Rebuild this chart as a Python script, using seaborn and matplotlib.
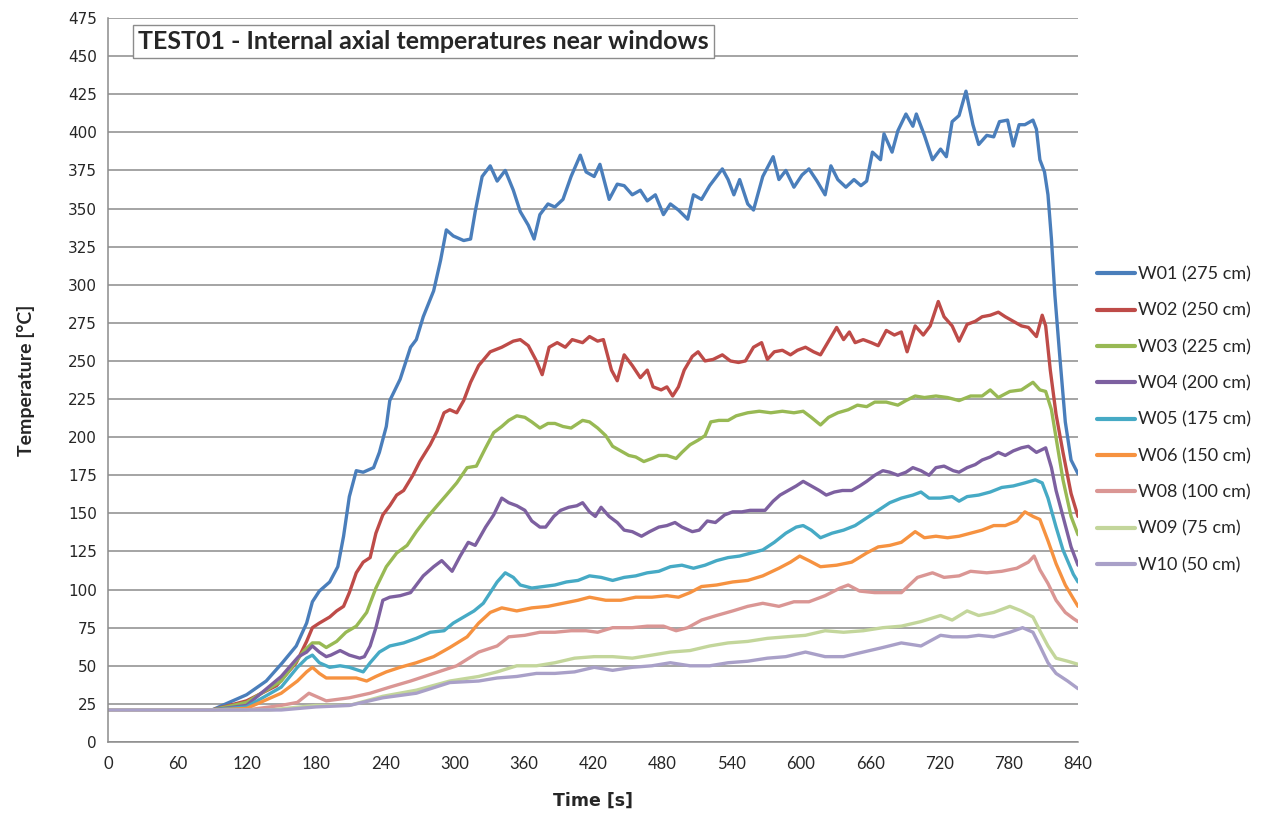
import matplotlib
matplotlib.use("Agg")
import matplotlib.pyplot as plt
import numpy as np
import pandas as pd
import seaborn as sns

# values (time in s, temperature in degC)
t_w01 = [0, 90, 120, 137, 151, 163, 172, 177, 183, 192,
         199, 204, 209, 215, 221, 230, 235, 241, 244, 253,
         262, 267, 273, 282, 288, 293, 299, 308, 314, 318,
         324, 331, 337, 344, 351, 357, 364, 369, 374, 381,
         387, 394, 401, 409, 414, 421, 426, 434, 441, 447,
         454, 461, 467, 474, 481, 487, 494, 502, 507, 514,
         521, 527, 532, 537, 542, 547, 554, 559, 567, 576,
         581, 587, 594, 601, 607, 614, 621, 626, 632, 639,
         646, 652, 657, 662, 669, 672, 679, 684, 691, 697,
         700, 707, 714, 721, 726, 731, 737, 743, 749, 754,
         761, 767, 772, 779, 784, 789, 794, 801, 804, 807,
         811, 814, 817, 820, 824, 829, 834, 840]
w01 = [21, 21, 31, 40, 52, 63, 78, 92, 99, 105,
       115, 135, 161, 178, 177, 180, 190, 207, 224, 238,
       259, 264, 279, 296, 316, 336, 332, 329, 330, 348,
       371, 378, 368, 375, 362, 348, 339, 330, 346, 353,
       351, 356, 371, 385, 374, 371, 379, 356, 366, 365,
       359, 362, 355, 359, 346, 353, 349, 343, 359, 356,
       365, 371, 376, 369, 359, 369, 353, 349, 371, 384,
       369, 375, 364, 372, 376, 368, 359, 378, 369, 364,
       369, 365, 368, 387, 382, 399, 387, 401, 412, 404,
       412, 398, 382, 389, 384, 407, 411, 427, 405, 392,
       398, 397, 407, 408, 391, 405, 405, 408, 402, 382,
       374, 359, 330, 293, 255, 210, 185, 176]

t_w02 = [0, 90, 120, 146, 163, 172, 177, 183, 192, 198,
         204, 209, 215, 221, 227, 232, 238, 244, 250, 256,
         264, 270, 279, 285, 291, 296, 302, 308, 314, 321,
         331, 341, 351, 357, 364, 371, 376, 382, 389, 396,
         402, 411, 417, 424, 429, 436, 441, 447, 454, 461,
         467, 472, 479, 484, 489, 494, 499, 506, 511, 517,
         524, 532, 539, 546, 552, 559, 566, 571, 577, 584,
         591, 597, 604, 611, 617, 624, 631, 637, 642, 647,
         654, 661, 667, 674, 681, 687, 692, 699, 706, 712,
         719, 724, 731, 737, 744, 751, 757, 764, 771, 777,
         784, 791, 797, 804, 809, 812, 816, 821, 827, 834,
         840]
w02 = [21, 21, 27, 37, 52, 66, 75, 78, 82, 86,
       89, 98, 111, 118, 121, 137, 149, 155, 162, 165,
       175, 184, 195, 204, 216, 218, 216, 224, 236, 247,
       256, 259, 263, 264, 260, 250, 241, 259, 262, 259,
       264, 262, 266, 263, 264, 244, 237, 254, 247, 239,
       244, 233, 231, 233, 227, 233, 244, 253, 256, 250,
       251, 254, 250, 249, 250, 259, 262, 251, 256, 257,
       254, 257, 259, 256, 254, 263, 272, 264, 269, 262,
       264, 262, 260, 270, 267, 269, 256, 273, 267, 273,
       289, 279, 273, 263, 274, 276, 279, 280, 282, 279,
       276, 273, 272, 266, 280, 273, 244, 215, 190, 163,
       148]

t_w03 = [0, 90, 120, 150, 170, 177, 183, 189, 198, 206,
         215, 224, 232, 241, 250, 259, 267, 276, 285, 293,
         302, 311, 319, 327, 334, 341, 347, 354, 361, 367,
         374, 381, 387, 394, 401, 411, 417, 424, 431, 437,
         444, 451, 457, 464, 471, 477, 484, 492, 497, 504,
         511, 517, 522, 529, 537, 544, 554, 564, 574, 584,
         594, 602, 609, 617, 624, 632, 641, 649, 657, 664,
         674, 684, 691, 699, 707, 717, 727, 737, 747, 757,
         764, 771, 781, 791, 801, 807, 812, 817, 822, 827,
         834, 840]
w03 = [21, 21, 26, 40, 60, 65, 65, 62, 66, 72,
       76, 85, 101, 115, 124, 129, 138, 147, 155, 162,
       170, 180, 181, 193, 203, 207, 211, 214, 213, 210,
       206, 209, 209, 207, 206, 211, 210, 206, 201, 194,
       191, 188, 187, 184, 186, 188, 188, 186, 190, 195,
       198, 201, 210, 211, 211, 214, 216, 217, 216, 217,
       216, 217, 213, 208, 213, 216, 218, 221, 220, 223,
       223, 221, 224, 227, 226, 227, 226, 224, 227, 227,
       231, 226, 230, 231, 236, 231, 230, 218, 195, 172,
       148, 136]

t_w04 = [0, 90, 120, 150, 165, 172, 177, 183, 189, 193,
         201, 209, 218, 222, 227, 232, 238, 244, 253, 262,
         267, 273, 282, 289, 298, 305, 312, 318, 327, 334,
         341, 347, 354, 361, 367, 374, 379, 386, 392, 399,
         406, 411, 417, 422, 427, 434, 441, 447, 454, 462,
         469, 477, 484, 491, 497, 506, 512, 519, 526, 534,
         541, 549, 556, 562, 569, 576, 582, 589, 596, 602,
         609, 616, 622, 629, 636, 644, 651, 657, 664, 671,
         677, 684, 691, 697, 704, 711, 717, 724, 732, 737,
         744, 751, 757, 764, 771, 777, 784, 791, 797, 804,
         812, 817, 821, 827, 834, 840]
w04 = [21, 21, 24, 43, 56, 59, 63, 59, 56, 57,
       60, 57, 55, 56, 63, 75, 93, 95, 96, 98,
       103, 109, 115, 119, 112, 122, 131, 129, 141, 149,
       160, 157, 155, 152, 145, 141, 141, 148, 152, 154,
       155, 157, 151, 148, 154, 148, 144, 139, 138, 135,
       138, 141, 142, 144, 141, 138, 139, 145, 144, 149,
       151, 151, 152, 152, 152, 158, 162, 165, 168, 171,
       168, 165, 162, 164, 165, 165, 168, 171, 175, 178,
       177, 175, 177, 180, 178, 175, 180, 181, 178, 177,
       180, 182, 185, 187, 190, 188, 191, 193, 194, 190,
       193, 180, 165, 148, 128, 116]

t_w05 = [0, 90, 120, 150, 164, 172, 177, 183, 192, 201,
         209, 221, 227, 235, 244, 256, 267, 279, 291, 299,
         308, 317, 325, 331, 337, 344, 351, 357, 367, 377,
         387, 397, 407, 417, 427, 437, 447, 457, 467, 477,
         487, 497, 507, 517, 527, 537, 547, 557, 567, 577,
         587, 596, 602, 609, 617, 627, 637, 647, 657, 667,
         677, 687, 697, 704, 711, 721, 731, 737, 744, 754,
         764, 774, 784, 794, 803, 809, 814, 821, 827, 836,
         840]
w05 = [21, 21, 23, 36, 49, 55, 57, 52, 49, 50,
       49, 46, 52, 59, 63, 65, 68, 72, 73, 78,
       82, 86, 91, 98, 105, 111, 108, 103, 101, 102,
       103, 105, 106, 109, 108, 106, 108, 109, 111, 112,
       115, 116, 114, 116, 119, 121, 122, 124, 126, 131,
       137, 141, 142, 139, 134, 137, 139, 142, 147, 152,
       157, 160, 162, 164, 160, 160, 161, 158, 161, 162,
       164, 167, 168, 170, 172, 170, 160, 141, 126, 110,
       105]

t_w06 = [0, 90, 120, 150, 164, 172, 177, 183, 189, 201,
         215, 224, 232, 241, 253, 267, 282, 296, 311, 321,
         331, 341, 354, 367, 381, 394, 407, 417, 431, 444,
         457, 471, 484, 494, 504, 514, 527, 541, 554, 567,
         581, 591, 599, 607, 617, 631, 644, 657, 667, 677,
         687, 699, 707, 717, 727, 737, 747, 757, 767, 777,
         787, 794, 801, 807, 814, 821, 829, 836, 840]
w06 = [21, 21, 22, 32, 40, 46, 49, 45, 42, 42,
       42, 40, 43, 46, 49, 52, 56, 62, 69, 78,
       85, 88, 86, 88, 89, 91, 93, 95, 93, 93,
       95, 95, 96, 95, 98, 102, 103, 105, 106, 109,
       114, 118, 122, 119, 115, 116, 118, 124, 128, 129,
       131, 138, 134, 135, 134, 135, 137, 139, 142, 142,
       145, 151, 148, 146, 132, 117, 103, 94, 89]

t_w08 = [0, 120, 150, 164, 174, 180, 189, 209, 227, 244,
         262, 282, 302, 321, 337, 347, 361, 374, 387, 401,
         414, 424, 437, 454, 467, 481, 492, 502, 514, 527,
         541, 554, 567, 581, 594, 607, 621, 634, 641, 651,
         664, 674, 687, 701, 714, 724, 737, 747, 761, 774,
         787, 797, 802, 807, 814, 821, 829, 836, 840]
w08 = [21, 21, 24, 26, 32, 30, 27, 29, 32, 36,
       40, 45, 50, 59, 63, 69, 70, 72, 72, 73,
       73, 72, 75, 75, 76, 76, 73, 75, 80, 83,
       86, 89, 91, 89, 92, 92, 96, 101, 103, 99,
       98, 98, 98, 108, 111, 108, 109, 112, 111, 112,
       114, 118, 122, 113, 104, 93, 85, 81, 79]

t_w09 = [0, 140, 180, 209, 238, 267, 296, 321, 337, 354,
         371, 387, 404, 421, 437, 454, 471, 487, 504, 521,
         537, 554, 571, 587, 604, 621, 637, 654, 671, 687,
         704, 721, 731, 744, 754, 767, 781, 791, 801, 807,
         814, 821, 831, 840]
w09 = [21, 21, 24, 24, 30, 34, 40, 43, 46, 50,
       50, 52, 55, 56, 56, 55, 57, 59, 60, 63,
       65, 66, 68, 69, 70, 73, 72, 73, 75, 76,
       79, 83, 80, 86, 83, 85, 89, 86, 82, 73,
       63, 55, 53, 51]

t_w10 = [0, 150, 180, 209, 238, 267, 296, 321, 337, 354,
         371, 387, 404, 421, 437, 454, 471, 487, 504, 521,
         537, 554, 571, 587, 604, 621, 637, 654, 671, 687,
         704, 721, 731, 744, 754, 767, 781, 792, 801, 807,
         814, 821, 831, 840]
w10 = [21, 21, 23, 24, 29, 32, 39, 40, 42, 43,
       45, 45, 46, 49, 47, 49, 50, 52, 50, 50,
       52, 53, 55, 56, 59, 56, 56, 59, 62, 65,
       63, 70, 69, 69, 70, 69, 72, 75, 72, 63,
       52, 45, 40, 35]

labels = ["W01 (275 cm)", "W02 (250 cm)", "W03 (225 cm)", "W04 (200 cm)",
          "W05 (175 cm)", "W06 (150 cm)", "W08 (100 cm)", "W09 (75 cm)",
          "W10 (50 cm)"]
colors = ["#4A7EBB", "#BE4B48", "#98B954", "#7D60A0", "#46AAC5",
          "#F69240", "#DA9694", "#C3D69B", "#A9A0C8"]

x_ticks = list(range(0, 841, 60))
y_ticks = list(range(0, 476, 25))

times = [t_w01, t_w02, t_w03, t_w04, t_w05, t_w06, t_w08, t_w09, t_w10]
temps = [w01, w02, w03, w04, w05, w06, w08, w09, w10]

# long-form table for seaborn
frames = []
for lab, t, v in zip(labels, times, temps):
    frames.append(pd.DataFrame({"time": t, "temp": v, "series": lab}))
df = pd.concat(frames, ignore_index=True)

sns.set_style("white")
plt.rcParams['font.family'] = ['Lato', 'DejaVu Sans']

fig = plt.figure(figsize=(12.71, 8.14), dpi=100)
ax = fig.add_axes([108 / 1271, 1 - 742 / 814, 970 / 1271, 724 / 814])

sns.lineplot(data=df, x="time", y="temp", hue="series", hue_order=labels,
             palette=colors, estimator=None, sort=False, linewidth=2.4, ax=ax)

ax.set_xlim(0, 840)
ax.set_ylim(0, 475)
ax.set_xticks(x_ticks, labels=[str(v) for v in x_ticks], fontsize=12)
ax.set_yticks(y_ticks, labels=[str(v) for v in y_ticks], fontsize=11,
              fontfamily="DejaVu Sans")
ax.yaxis.grid(True, color="#8C8C8C", linewidth=1.1)
ax.set_axisbelow(True)

for side in ["top", "right"]:
    ax.spines[side].set_visible(False)
for side in ["left", "bottom"]:
    ax.spines[side].set_color("#8C8C8C")
    ax.spines[side].set_linewidth(1.1)

ax.tick_params(axis="both", direction="out", length=4, color="#8C8C8C", width=1)
ax.tick_params(axis="x", pad=6)
ax.tick_params(axis="y", pad=4)

ax.set_xlabel("Time [s]", fontsize=12.5, fontweight="bold", labelpad=14,
              fontfamily="DejaVu Sans")
ax.set_ylabel("Temperature [°C]", fontsize=14, fontweight="bold", labelpad=24)

ax.text(0.031, 0.968, "TEST01 - Internal axial temperatures near windows",
        transform=ax.transAxes, fontsize=18, fontweight="bold", va="center",
        ha="left",
        bbox=dict(boxstyle="square,pad=0.2", facecolor="white",
                  edgecolor="#8C8C8C", linewidth=1))

leg = ax.legend(loc="center left", bbox_to_anchor=(1.012, 0.445), frameon=False,
                fontsize=13, handlelength=2.1, handletextpad=0.2,
                labelspacing=1.12, borderaxespad=0)
for line in leg.get_lines():
    line.set_linewidth(3)

fig.savefig("out.png", dpi=100)
